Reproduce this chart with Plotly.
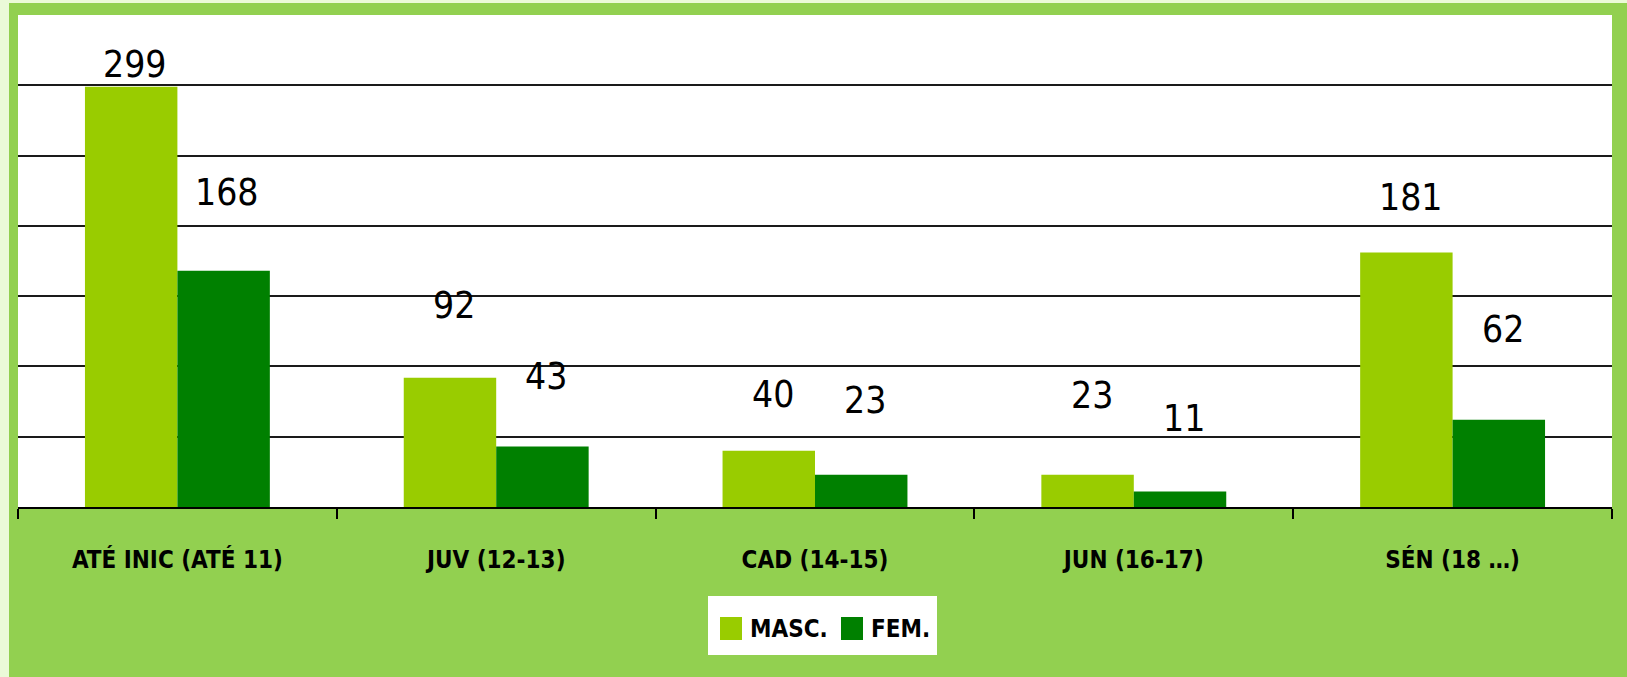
import plotly.graph_objects as go

categories = ["ATÉ INIC (ATÉ 11)", "JUV (12-13)", "CAD (14-15)", "JUN (16-17)", "SÉN (18 …)"]
masc = [299, 92, 40, 23, 181]
fem = [168, 43, 23, 11, 62]
# label anchor heights (data units) as placed in the original chart
masc_label_y = [315, 143, 80, 79, 220]
fem_label_y = [224, 93, 76, 63, 126]
y_ticks = [0, 50, 100, 150, 200, 250, 300, 350]
series_names = ["MASC.", "FEM."]

W, H = 1627, 677
ML, MR, MT, MB = 18, 15, 15, 170
PW, PH = W - ML - MR, H - MT - MB

FONT = "DejaVu Sans Condensed, Roboto, sans-serif"
C_MASC = "#99CC00"
C_FEM = "#008000"


def px_x(p):
    return (p - ML) / PW


def px_y(p):
    return 1 - (p - MT) / PH


fig = go.Figure()
fig.add_trace(go.Bar(name=series_names[0], x=categories, y=masc, marker_color=C_MASC, marker_line_width=0))
fig.add_trace(go.Bar(name=series_names[1], x=categories, y=fem, marker_color=C_FEM, marker_line_width=0))

for cat, ly, v in zip(categories, masc_label_y, masc):
    fig.add_annotation(x=cat, y=ly, text=str(v), showarrow=False, xshift=-42, yanchor="middle",
                       font=dict(family=FONT, size=37, color="black"))
for cat, ly, v in zip(categories, fem_label_y, fem):
    fig.add_annotation(x=cat, y=ly, text=str(v), showarrow=False, xshift=50, yanchor="middle",
                       font=dict(family=FONT, size=37, color="black"))

# pale outer strips (left and top)
fig.add_shape(type="rect", xref="paper", yref="paper", x0=px_x(0), x1=px_x(9),
              y0=px_y(H), y1=px_y(0), fillcolor="#EBFAD8", line_width=0, layer="below")
fig.add_shape(type="rect", xref="paper", yref="paper", x0=px_x(0), x1=px_x(W),
              y0=px_y(3), y1=px_y(0), fillcolor="#EBFAD8", line_width=0, layer="below")

# legend box
fig.add_shape(type="rect", xref="paper", yref="paper", x0=px_x(708), x1=px_x(937),
              y0=px_y(655), y1=px_y(596), fillcolor="white", line_width=0)
for (sx, tx), name, col in zip([(720, 748), (841, 869)], series_names, [C_MASC, C_FEM]):
    fig.add_shape(type="rect", xref="paper", yref="paper", x0=px_x(sx), x1=px_x(sx + 22),
                  y0=px_y(640), y1=px_y(617), fillcolor=col, line_width=0)
    fig.add_annotation(xref="paper", yref="paper", x=px_x(tx), y=px_y(629), xanchor="left",
                       yanchor="middle", text="<b>%s</b>" % name, showarrow=False,
                       font=dict(family=FONT, size=24, color="black"))

fig.update_layout(
    width=W, height=H,
    margin=dict(l=ML, r=MR, t=MT, b=MB),
    paper_bgcolor="#92D050",
    plot_bgcolor="white",
    barmode="group",
    bargap=0.42,
    bargroupgap=0,
    showlegend=False,
    font=dict(family=FONT, color="black"),
)
fig.update_xaxes(showline=True, linecolor="black", linewidth=2, ticks="outside", tickson="boundaries",
                 ticklen=10, tickwidth=2, tickcolor="black", showgrid=False,
                 tickfont=dict(family=FONT, size=24, color="black", weight="bold"),
                 ticklabelstandoff=30)
fig.update_yaxes(range=[0, 350], tickvals=y_ticks, showticklabels=False, showgrid=True,
                 gridcolor="#1a1a1a", gridwidth=2, zeroline=False, showline=False, fixedrange=True)

fig.write_html("out.html", config={"displayModeBar": False},
               post_script="document.body.style.margin='0';document.body.style.overflow='hidden';")
